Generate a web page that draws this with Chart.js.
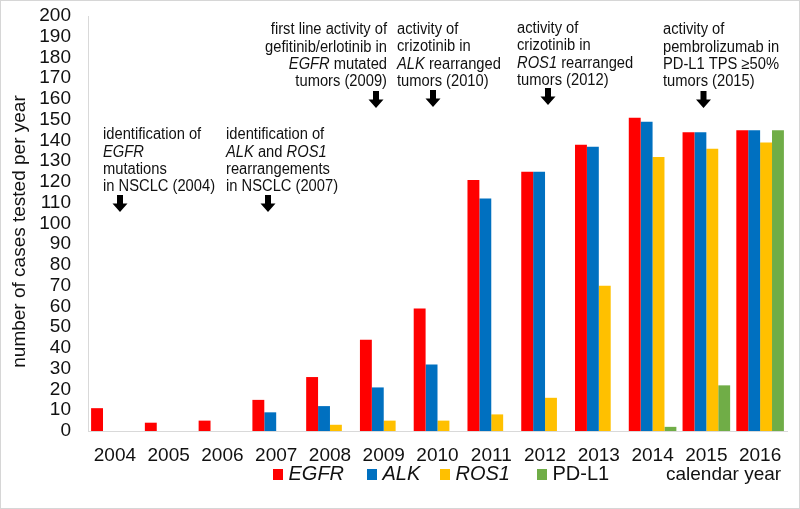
<!DOCTYPE html>
<html>
<head>
<meta charset="utf-8">
<script src="https://cdn.jsdelivr.net/npm/chart.js@4/dist/chart.umd.min.js"></script>
<style>
  html, body { margin: 0; padding: 0; background: #fff; }
  #wrap { width: 800px; height: 509px; position: relative; }
  canvas { display: block; }
</style>
</head>
<body>
<div id="wrap"><canvas id="c" width="800" height="509"></canvas></div>
<script>
// ---- data ----
const years = ['2004','2005','2006','2007','2008','2009','2010','2011','2012','2013','2014','2015','2016'];
const egfr  = [11, 4, 5, 15, 26, 44, 59, 121, 125, 138, 151, 144, 145];
const alk   = [null, null, null, 9, 12, 21, 32, 112, 125, 137, 149, 144, 145];
const ros1  = [null, null, null, null, 3, 5, 5, 8, 16, 70, 132, 136, 139];
const pdl1  = [null, null, null, null, null, null, null, null, null, null, 2, 22, 145];
const seriesNames  = ['EGFR', 'ALK', 'ROS1', 'PD-L1'];
const seriesItalic = [true, true, true, false];
const seriesColors = ['#FF0000', '#0070C0', '#FFC000', '#70AD47'];
const yMin = 0, yMax = 200, yStep = 10;
const yTitle = 'number of cases tested per year';
const xTitle = 'calendar year';

// annotation texts: each line is a list of [text, italic] segments
const notes = [
  { lines: [[['identification of', false]], [['EGFR', true]], [['mutations', false]], [['in NSCLC (2004)', false]]] },
  { lines: [[['identification of', false]], [['ALK', true], [' and ', false], ['ROS1', true]], [['rearrangements', false]], [['in NSCLC (2007)', false]]] },
  { lines: [[['first line activity of', false]], [['gefitinib/erlotinib in', false]], [['EGFR', true], [' mutated', false]], [['tumors (2009)', false]]] },
  { lines: [[['activity of', false]], [['crizotinib in', false]], [['ALK', true], [' rearranged', false]], [['tumors (2010)', false]]] },
  { lines: [[['activity of', false]], [['crizotinib in', false]], [['ROS1', true], [' rearranged', false]], [['tumors (2012)', false]]] },
  { lines: [[['activity of', false]], [['pembrolizumab in', false]], [['PD-L1 TPS ≥50%', false]], [['tumors (2015)', false]]] }
];
// layout of annotations (pixels)
const noteLayout = [
  { x: 103, y: 135, align: 'left',  ax: 120,   ay: 195 },
  { x: 226, y: 135, align: 'left',  ax: 268,   ay: 195 },
  { x: 387, y: 30,  align: 'right', ax: 376,   ay: 91 },
  { x: 397, y: 29.5,align: 'left',  ax: 433,   ay: 90 },
  { x: 517, y: 28.5,align: 'left',  ax: 548,   ay: 88 },
  { x: 663, y: 30,  align: 'left',  ax: 703.5, ay: 91 }
];

const FONT = '"Liberation Sans", Arial, Helvetica, sans-serif';
const series = [egfr, alk, ros1, pdl1];

const extras = {
  id: 'extras',
  afterDraw(chart) {
    const ctx = chart.ctx;
    ctx.save();
    // frame
    ctx.strokeStyle = '#d6d6d6';
    ctx.lineWidth = 1;
    ctx.strokeRect(0.5, 0.5, 799, 508);

    // y title
    ctx.save();
    ctx.translate(20, 231.5);
    ctx.rotate(-Math.PI / 2);
    ctx.font = '19px ' + FONT;
    ctx.fillStyle = '#111';
    ctx.textAlign = 'center';
    ctx.textBaseline = 'middle';
    ctx.fillText(yTitle, 0, 0);
    ctx.restore();

    // annotations
    const sx = 0.92, lh = 17.3, fs = 16;
    notes.forEach((n, i) => {
      const L = noteLayout[i];
      n.lines.forEach((segs, li) => {
        let w = 0;
        segs.forEach(([t, it]) => { ctx.font = (it ? 'italic ' : '') + fs + 'px ' + FONT; w += ctx.measureText(t).width; });
        let x0 = L.align === 'right' ? L.x - w * sx : L.x;
        ctx.save();
        ctx.translate(x0, L.y + li * lh);
        ctx.scale(sx, 1);
        ctx.fillStyle = '#111';
        ctx.textBaseline = 'middle';
        ctx.textAlign = 'left';
        let cx = 0;
        segs.forEach(([t, it]) => {
          ctx.font = (it ? 'italic ' : '') + fs + 'px ' + FONT;
          ctx.fillText(t, cx, 0);
          cx += ctx.measureText(t).width;
        });
        ctx.restore();
      });
      // arrow
      const ax = L.ax, ay = L.ay;
      ctx.fillStyle = '#000';
      ctx.beginPath();
      ctx.moveTo(ax - 3, ay);
      ctx.lineTo(ax + 3, ay);
      ctx.lineTo(ax + 3, ay + 8.5);
      ctx.lineTo(ax + 7.5, ay + 8.5);
      ctx.lineTo(ax, ay + 17);
      ctx.lineTo(ax - 7.5, ay + 8.5);
      ctx.lineTo(ax - 3, ay + 8.5);
      ctx.closePath();
      ctx.fill();
    });

    // legend
    const ly = 474.5;
    const squareX = [273, 367, 440, 537];
    chart.data.datasets.forEach((ds, i) => {
      const lx = squareX[i];
      ctx.fillStyle = ds.backgroundColor;
      ctx.fillRect(lx, ly - 5.5, 10, 11);
      ctx.font = (seriesItalic[i] ? 'italic ' : '') + '20px ' + FONT;
      ctx.fillStyle = '#111';
      ctx.textAlign = 'left';
      ctx.textBaseline = 'middle';
      ctx.fillText(ds.label, lx + 15.5, ly);
    });
    ctx.font = '19px ' + FONT;
    ctx.fillStyle = '#111';
    ctx.fillText(xTitle, 666, ly);
    ctx.restore();
  }
};

new Chart(document.getElementById('c'), {
  type: 'bar',
  data: {
    labels: years,
    datasets: series.map((d, i) => ({
      label: seriesNames[i],
      data: d,
      backgroundColor: seriesColors[i],
      borderWidth: 0,
      categoryPercentage: 0.885,
      barPercentage: 1.0
    }))
  },
  options: {
    responsive: false,
    animation: false,
    devicePixelRatio: 1,
    layout: { padding: { top: 16, right: 13, left: 0, bottom: 0 } },
    plugins: { legend: { display: false }, tooltip: { enabled: false } },
    scales: {
      x: {
        grid: { display: false, drawTicks: false },
        border: { display: true, color: '#d9d9d9' },
        ticks: { color: '#111', font: { family: FONT, size: 19 }, padding: 13, maxRotation: 0, autoSkip: false },
        afterFit(s) { s.height = 78; s.paddingLeft = 0; s.paddingRight = 0; }
      },
      y: {
        min: yMin, max: yMax,
        grid: { display: false, drawTicks: false },
        border: { display: true, color: '#d9d9d9' },
        ticks: { stepSize: yStep, color: '#111', font: { family: FONT, size: 19 }, padding: 17, autoSkip: false },
        afterFit(s) { s.width = 88; s.paddingTop = 0; s.paddingBottom = 0; }
      }
    }
  },
  plugins: [extras]
});
</script>
</body>
</html>
